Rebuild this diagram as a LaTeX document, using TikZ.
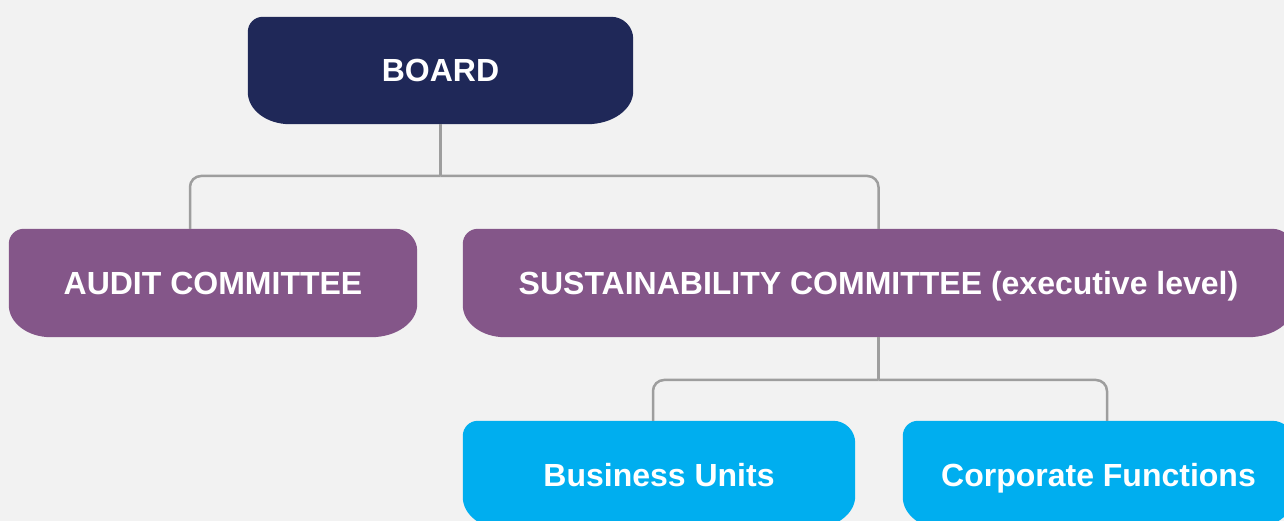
\documentclass[tikz,border=0pt]{standalone}
\usepackage{fontspec}
\setmainfont{Liberation Sans}
\usetikzlibrary{backgrounds,calc}
\definecolor{bgc}{HTML}{F2F2F2}
\definecolor{navy}{HTML}{1F2858}
\definecolor{plum}{HTML}{845689}
\definecolor{sky}{HTML}{00AEEF}
\definecolor{linegray}{HTML}{9E9E9E}
\newcommand\orgshape[2]{%
  \fill[#2] ([yshift=-15pt]#1.north west)
    arc[start angle=180,end angle=90,radius=15pt]
    -- ([xshift=-22pt]#1.north east)
    arc[start angle=90,end angle=0,radius=22pt]
    -- ([yshift=33pt]#1.south east)
    arc[start angle=0,end angle=-90,x radius=46pt,y radius=33pt]
    -- ([xshift=42pt]#1.south west)
    arc[start angle=270,end angle=180,x radius=42pt,y radius=32pt]
    -- cycle;}
\tikzset{
  orgbox/.style={rectangle,inner sep=0pt,text=white,
    text height=23pt,text depth=0pt,
    font=\fontsize{32}{36}\selectfont\bfseries},
  conn/.style={draw=linegray,line width=2.5pt,rounded corners=11pt},
}
\begin{document}
\begin{tikzpicture}[x=1pt,y=1pt]
\useasboundingbox (0,0) rectangle (1284,521);
\clip (0,0) rectangle (1284,521);
\node[orgbox,minimum width=385pt,minimum height=107pt] (board) at (440.5,450.5) {BOARD};
\node[orgbox,minimum width=408pt,minimum height=108pt] (audit) at (213,238) {AUDIT COMMITTEE};
\node[orgbox,minimum width=831pt,minimum height=108pt] (sust) at (878.5,238) {SUSTAINABILITY COMMITTEE (executive level)};
\node[orgbox,minimum width=392pt,minimum height=108pt] (bu) at (659,46) {Business Units};
\node[orgbox,minimum width=391pt,minimum height=108pt] (cf) at (1098.5,46) {Corporate Functions};
\begin{scope}[on background layer]
\fill[bgc] (0,0) rectangle (1284,521);
\orgshape{board}{navy}
\orgshape{audit}{plum}
\orgshape{sust}{plum}
\orgshape{bu}{sky}
\orgshape{cf}{sky}
\end{scope}
\coordinate (j1) at (board.south |- 0,345);
\coordinate (a1) at ([xshift=-23pt]audit.north);
\draw[conn] (board.south) -- (j1);
\draw[conn] (j1) -| (a1);
\draw[conn] (j1) -| (sust.north);
\coordinate (j2) at (sust.south |- 0,141);
\coordinate (b1) at ([xshift=-6pt]bu.north);
\coordinate (c1) at ([xshift=8.5pt]cf.north);
\draw[conn] (sust.south) -- (j2);
\draw[conn] (j2) -| (b1);
\draw[conn] (j2) -| (c1);
\end{tikzpicture}
\end{document}
